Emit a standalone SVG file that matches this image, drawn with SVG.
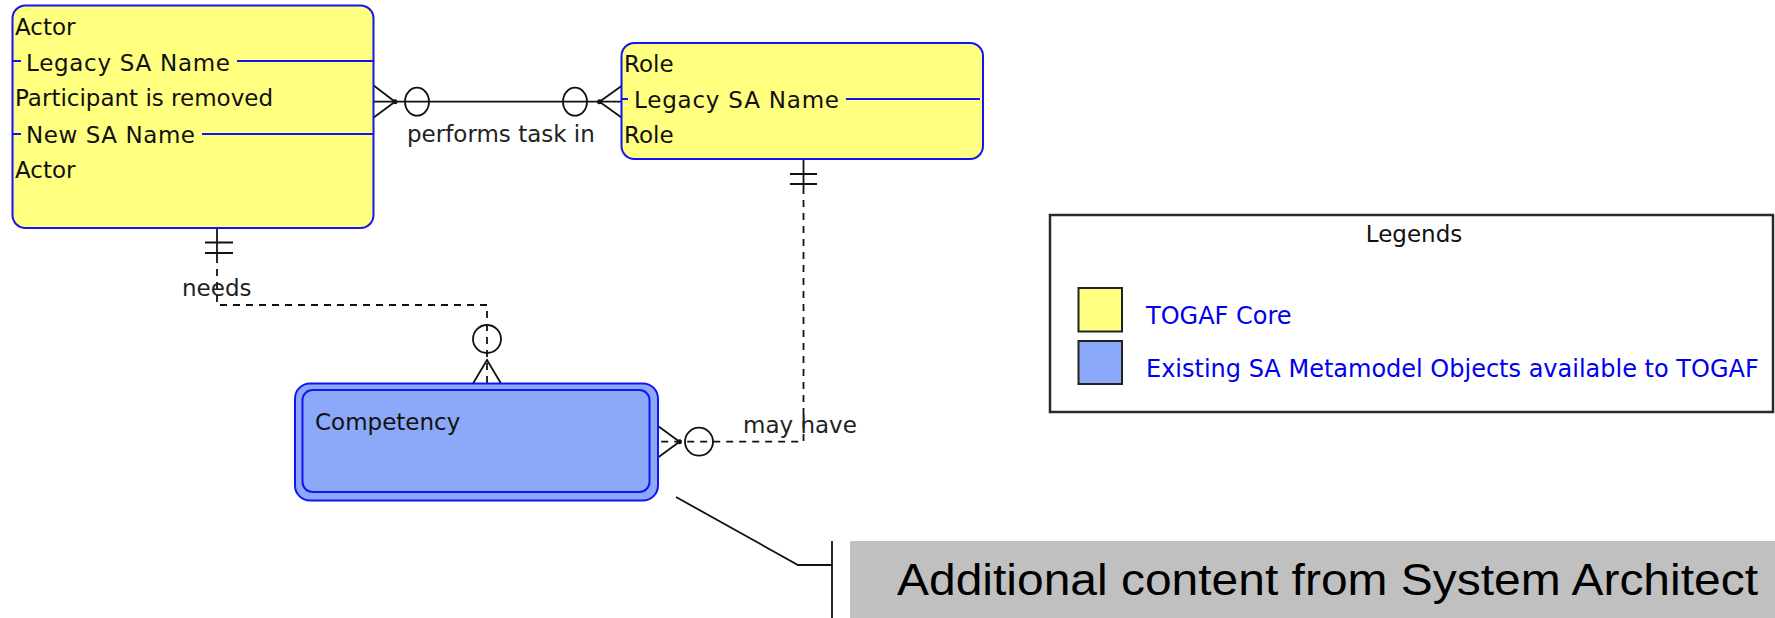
<svg xmlns="http://www.w3.org/2000/svg" width="1775" height="618" viewBox="0 0 1775 618">
  <style>
    .ent { fill: #FFFF80; stroke: #1414F0; stroke-width: 2; }
    .blue { fill: #8CA8F8; stroke: #1414F0; stroke-width: 2; }
    .attr { stroke: #1414F0; stroke-width: 2; fill: none; }
    .t { font-family: "DejaVu Sans", Verdana, sans-serif; font-size: 23px; fill: #111; }
    .lbl { font-family: "DejaVu Sans", Verdana, sans-serif; font-size: 23px; fill: #222; }
    .lg { font-family: "DejaVu Sans", Verdana, sans-serif; font-size: 24px; fill: #0000EE; }
    .ln { stroke: #111; stroke-width: 1.8; fill: none; }
    .dash { stroke: #111; stroke-width: 1.8; fill: none; stroke-dasharray: 7 6; }
    .dot { fill: #111; }
  </style>

  <g id="connectors">
    <!-- performs task in -->
    <path class="ln" d="M373,101.7 H621.5"/>
    <path class="ln" d="M373,85 L395,101.7 L373,118"/>
    <circle class="dot" cx="395" cy="101.7" r="2.5"/>
    <ellipse class="ln" cx="417" cy="101.7" rx="12" ry="14"/>
    <ellipse class="ln" cx="575" cy="101.7" rx="12" ry="14"/>
    <path class="ln" d="M621.5,86 L599.5,101.7 L621.5,117.5"/>
    <circle class="dot" cx="599.5" cy="101.7" r="2.5"/>
    <text class="lbl" x="407" y="141.5">performs task in</text>

    <!-- needs -->
    <path class="ln" d="M217,228 V256"/>
    <path class="ln" d="M205,242.5 H233 M205,253 H233"/>
    <path class="dash" d="M217,256 V305 H487 V383"/>
    <circle class="ln" cx="487" cy="339" r="14"/>
    <path class="ln" d="M473,383.5 L487,360 L501,383.5"/>
    <text class="lbl" x="182" y="296">needs</text>

    <!-- may have -->
    <path class="ln" d="M803.5,159 V187"/>
    <path class="ln" d="M790,174 H817 M790,184 H817"/>
    <path class="dash" d="M803.5,187 V441.7 H658"/>
    <circle class="ln" cx="699" cy="441.7" r="14"/>
    <path class="ln" d="M658,426 L679.5,441.7 L658,457.5"/>
    <circle class="dot" cx="679.5" cy="441.7" r="2.5"/>
    <text class="lbl" x="743" y="433">may have</text>
  </g>

  <g id="actor">
    <rect class="ent" x="12.5" y="5.5" width="361" height="222.5" rx="13"/>
    <text class="t" x="15" y="34.5">Actor</text>
    <path class="attr" d="M13,61 H21 M237,61 H373"/>
    <text class="t" x="26" y="70.5" textLength="204" lengthAdjust="spacing">Legacy SA Name</text>
    <text class="t" x="15" y="106">Participant is removed</text>
    <path class="attr" d="M13,134 H21 M202,134 H373"/>
    <text class="t" x="26" y="142.5" textLength="169" lengthAdjust="spacing">New SA Name</text>
    <text class="t" x="15" y="178">Actor</text>
  </g>

  <g id="role">
    <rect class="ent" x="621.5" y="43" width="361.5" height="116" rx="13"/>
    <text class="t" x="624" y="72">Role</text>
    <path class="attr" d="M622,99 H628 M846,99 H980"/>
    <text class="t" x="634" y="107.5" textLength="205" lengthAdjust="spacing">Legacy SA Name</text>
    <text class="t" x="624" y="143">Role</text>
  </g>

  <g id="competency">
    <rect class="blue" x="295" y="383.5" width="363" height="117" rx="15"/>
    <rect class="blue" x="302.5" y="390" width="347" height="102" rx="10"/>
    <text class="t" x="315" y="430">Competency</text>
  </g>

  <g id="legend">
    <rect x="1050" y="215" width="723" height="197" fill="#FFFFFF" stroke="#2a2a2a" stroke-width="2.5"/>
    <text class="t" x="1414" y="241.5" text-anchor="middle" font-size="24">Legends</text>
    <rect x="1078.5" y="288" width="43.5" height="43.5" fill="#FFFF80" stroke="#222" stroke-width="2"/>
    <text class="lg" x="1146" y="324">TOGAF Core</text>
    <rect x="1078.5" y="341" width="43.5" height="43" fill="#8CA8F8" stroke="#222" stroke-width="2"/>
    <text class="lg" x="1146" y="377">Existing SA Metamodel Objects available to TOGAF</text>
  </g>

  <g id="callout">
    <path class="ln" d="M676,497 L798,565 H832" stroke-width="2"/>
    <path class="ln" d="M832,541 V618" stroke-width="2"/>
    <rect x="850" y="541" width="925" height="77" fill="#C0C0C0"/>
    <text x="897" y="595" font-family="'Liberation Sans', Arial, sans-serif" font-size="45" fill="#000" textLength="861" lengthAdjust="spacingAndGlyphs">Additional content from System Architect</text>
  </g>
</svg>
